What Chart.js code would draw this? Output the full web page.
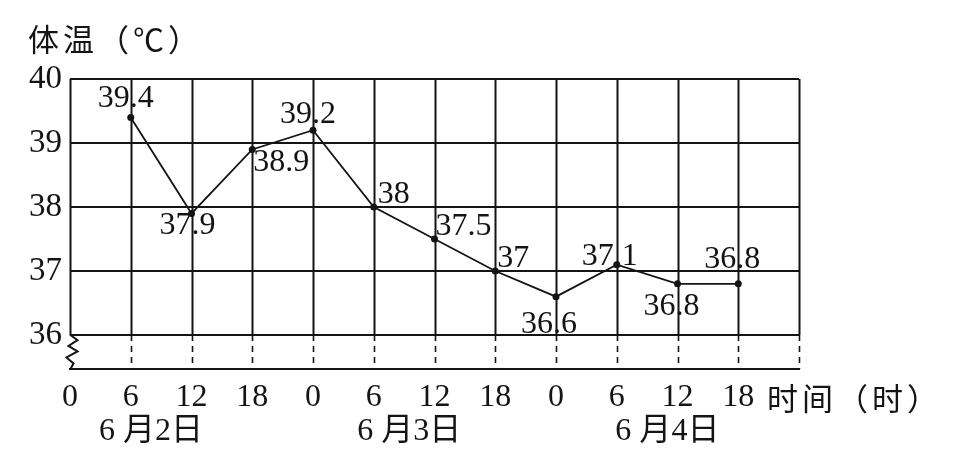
<!DOCTYPE html>
<html>
<head>
<meta charset="utf-8">
<script src="https://cdn.jsdelivr.net/npm/chart.js@4.4.0/dist/chart.umd.min.js"></script>
<style>
  html, body { margin: 0; padding: 0; background: #fff; }
  #wrap { width: 960px; height: 459px; }
</style>
</head>
<body>
<div id="wrap"><canvas id="chart" width="960" height="459"></canvas></div>
<script>
// hours since 0:00 on 6/2, and the temperature read at each hour
const hours = [6, 12, 18, 24, 30, 36, 42, 48, 54, 60, 66];
const temps = [39.4, 37.9, 38.9, 39.2, 38, 37.5, 37, 36.6, 37.1, 36.8, 36.8];

const xTicks = [0, 6, 12, 18, 24, 30, 36, 42, 48, 54, 60, 66, 72];
const xTickLabels = ['0', '6', '12', '18', '0', '6', '12', '18', '0', '6', '12', '18', ''];
const yTicks = [36, 36.5, 37, 37.5, 38, 38.5, 39, 39.5, 40];
const yTickLabels = ['36', '', '37', '', '38', '', '39', '', '40'];
const dateLabels = ['6 月2日', '6 月3日', '6 月4日'];

const yTitle = '体温（℃）';
const xTitle = '时间（时）';

const FONT = '"Liberation Serif", "Noto Sans CJK SC", serif';
const CJK = '"Noto Sans CJK SC", "Liberation Serif", sans-serif';
const INK = '#141414';

// where each value label sits around its point: [textAlign, dx, dy] (baseline alphabetic)
const labelPlace = [
  ['center', -5, -10],
  ['center', -4, 21],
  ['left', 1, 22],
  ['center', -5, -7],
  ['left', 4, -4],
  ['left', 1, -4],
  ['left', 2, -4],
  ['center', -7, 36],
  ['center', -7, 0],
  ['center', -6, 31],
  ['center', -6, -16],
];

const decorations = {
  id: 'decorations',
  beforeDatasetsDraw(chart) {
    const { ctx, chartArea } = chart;
    const xs = chart.scales.x;
    const ys = chart.scales.y;
    const yBreak = ys.getPixelForValue(36);
    ctx.save();
    ctx.strokeStyle = INK;
    ctx.lineWidth = 2;
    xTicks.forEach((h) => {
      const px = Math.round(xs.getPixelForValue(h)) + 0.5;
      if (h === 0) {
        // left edge with a break mark below 36
        ctx.setLineDash([]);
        ctx.beginPath();
        ctx.moveTo(px, chartArea.top);
        ctx.lineTo(px, yBreak);
        const gap = chartArea.bottom - yBreak;
        const zig = [[0, 0], [7, 0.15], [-2, 0.32], [7, 0.48], [-4, 0.66], [3, 0.84], [0, 1]];
        zig.forEach(([dx, f]) => ctx.lineTo(px + dx, yBreak + f * gap));
        ctx.stroke();
        return;
      }
      ctx.setLineDash([]);
      ctx.beginPath();
      ctx.moveTo(px, chartArea.top);
      ctx.lineTo(px, yBreak);
      ctx.stroke();
      ctx.setLineDash([6, 5]);
      ctx.lineWidth = 1.6;
      ctx.beginPath();
      ctx.moveTo(px, yBreak);
      ctx.lineTo(px, chartArea.bottom);
      ctx.stroke();
      ctx.lineWidth = 2;
    });
    ctx.restore();
  },
  afterDatasetsDraw(chart) {
    const { ctx, chartArea } = chart;
    const xs = chart.scales.x;
    const meta = chart.getDatasetMeta(0);
    ctx.save();
    ctx.fillStyle = INK;
    ctx.font = '32px ' + FONT;
    ctx.textBaseline = 'alphabetic';
    meta.data.forEach((pt, i) => {
      const [align, dx, dy] = labelPlace[i];
      ctx.textAlign = align;
      ctx.fillText(String(temps[i]), pt.x + dx, pt.y + dy);
    });

    // day labels under the hour ticks
    ctx.textAlign = 'center';
    ctx.textBaseline = 'middle';
    dateLabels.forEach((d, i) => {
      ctx.fillText(d, xs.getPixelForValue(8 + i * 25.5), 432);
    });

    // axis titles
    ctx.font = '31px ' + CJK;
    ctx.textAlign = 'left';
    ctx.letterSpacing = '4px';
    ctx.fillText(yTitle, 28, 39);
    ctx.fillText(xTitle, chartArea.right - 32, 398);
    ctx.restore();
  },
};

new Chart(document.getElementById('chart'), {
  type: 'line',
  data: {
    datasets: [{
      data: hours.map((h, i) => ({ x: h, y: temps[i] })),
      borderColor: INK,
      borderWidth: 1.8,
      backgroundColor: INK,
      pointRadius: 3.5,
      pointBackgroundColor: INK,
      pointBorderWidth: 0,
      tension: 0,
      fill: false,
    }],
  },
  options: {
    responsive: false,
    animation: false,
    layout: { padding: { top: 79, right: 161, left: 0, bottom: 0 } },
    plugins: { legend: { display: false }, tooltip: { enabled: false } },
    scales: {
      x: {
        type: 'linear',
        min: 0,
        max: 72,
        afterBuildTicks: (axis) => { axis.ticks = xTicks.map((v) => ({ value: v })); },
        afterFit: (axis) => { axis.height = 90; },
        grid: { display: false, drawTicks: false },
        border: { display: true, color: INK, width: 2 },
        ticks: {
          autoSkip: false,
          maxRotation: 0,
          padding: 9,
          color: INK,
          font: { family: FONT, size: 32 },
          callback: (v, i) => xTickLabels[i],
        },
      },
      y: {
        type: 'linear',
        min: 35.47,
        max: 40,
        afterBuildTicks: (axis) => { axis.ticks = yTicks.map((v) => ({ value: v })); },
        afterFit: (axis) => { axis.width = 70; },
        grid: { color: INK, lineWidth: 2, drawTicks: false },
        border: { display: false },
        ticks: {
          padding: 8,
          color: INK,
          font: { family: FONT, size: 33 },
          callback: (v, i) => yTickLabels[i],
        },
      },
    },
  },
  plugins: [decorations],
});
</script>
</body>
</html>
